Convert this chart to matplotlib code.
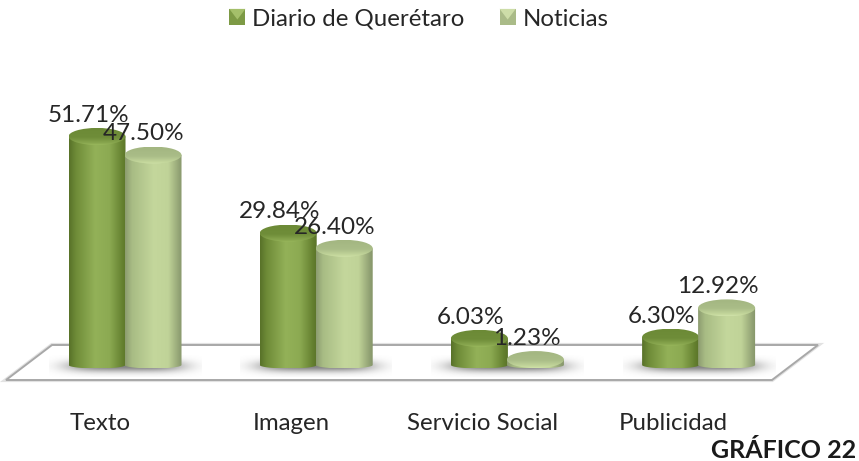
import numpy as np
import matplotlib
matplotlib.use('Agg')
import matplotlib.pyplot as plt
from matplotlib.colors import LinearSegmentedColormap
from matplotlib.legend_handler import HandlerBase
from matplotlib.patches import Patch, Polygon, PathPatch, Ellipse
from matplotlib.path import Path

plt.rcParams['font.family'] = ['Lato', 'DejaVu Sans']

categories = ['Texto', 'Imagen', 'Servicio Social', 'Publicidad']
series_names = ['Diario de Querétaro', 'Noticias']
diario = [51.71, 29.84, 6.03, 6.30]
noticias = [47.50, 26.40, 1.23, 12.92]

W, H = 859, 461
PX_X0, PX_PER_CAT = 125, 191.2
PX_Y0, PX_PER_PCT = 365, 4.42


def px(x, y):
    return (x - PX_X0) / PX_PER_CAT, (PX_Y0 - y) / PX_PER_PCT


RX = 28.5 / PX_PER_CAT
RY_TOP = 8.5 / PX_PER_PCT
RY_BOT = 3.5 / PX_PER_PCT
OFFSET = 28 / PX_PER_CAT

dark_side = LinearSegmentedColormap.from_list('ds', [(0, '#587229'), (0.12, '#6f8c38'), (0.45, '#93b158'),
                                                     (0.7, '#8caa52'), (0.93, '#64802f'), (1, '#5a7429')])
light_side = LinearSegmentedColormap.from_list('ls', [(0, '#8c9c70'), (0.12, '#a8bc84'), (0.5, '#c4d79c'),
                                                      (0.75, '#c0d398'), (0.95, '#8f9f72'), (1, '#869669')])
dark_top = LinearSegmentedColormap.from_list('dt', [(0, '#6c8a36'), (0.55, '#6f8d39'), (0.9, '#8aa850'), (1, '#9aba5e')])
light_top = LinearSegmentedColormap.from_list('lt', [(0, '#a3b681'), (0.55, '#aabd88'), (0.9, '#c4d79c'), (1, '#d0e2aa')])

fig = plt.figure(figsize=(W / 100, H / 100), dpi=100)
ax = fig.add_axes([0, 0, 1, 1])
x0, y0 = px(0, H)
x1, y1 = px(W, 0)
ax.set_xlim(x0, x1)
ax.set_ylim(y0, y1)
ax.axis('off')

# floor, with a soft grey edge
floor_px = [(6, 380), (52, 345), (818, 345), (772, 380)]
floor = [px(a, b) for a, b in floor_px]
ax.add_patch(Polygon(floor, closed=True, fc='none', ec='#e2e2e2', lw=3.0, zorder=1))
ax.add_patch(Polygon(floor, closed=True, fc='white', ec='#a8a8a8', lw=1.4, zorder=1.1))


def shadow(i):
    xs = np.linspace(-1, 1, 160)
    ys = np.linspace(-1, 1, 60)
    gx, gy = np.meshgrid(xs, ys)
    alpha = np.exp(-(np.abs(gx) / 0.78) ** 4 - (gy / 0.55) ** 2) * 0.85
    img = np.zeros(gx.shape + (4,))
    img[..., :3] = 0.42
    img[..., 3] = alpha
    xa, ya = px(PX_X0 + 76, PX_Y0 + 12)
    xb, yb = px(PX_X0 - 76, PX_Y0 - 10)
    ax.imshow(img, extent=[i + xb, i + xa, ya, yb], origin='lower', aspect='auto',
              interpolation='bilinear', zorder=2)


def cylinder(xc, value, side, top, z):
    t = np.linspace(np.pi, 2 * np.pi, 40)
    verts = [(xc - RX, value)]
    verts += [(xc + RX * np.cos(a), RY_BOT * np.sin(a)) for a in t]
    verts += [(xc + RX, value), (xc - RX, value)]
    clip = PathPatch(Path(verts), fc='none', ec='none', transform=ax.transData)
    ax.add_patch(clip)
    grad = np.linspace(0, 1, 128).reshape(1, -1)
    im = ax.imshow(grad, cmap=side, extent=[xc - RX, xc + RX, -RY_BOT, value], aspect='auto', zorder=z)
    im.set_clip_path(clip)
    cap = Ellipse((xc, value), 2 * RX, 2 * RY_TOP, fc='none', ec='none', transform=ax.transData)
    ax.add_patch(cap)
    grad = np.linspace(0, 1, 64).reshape(-1, 1)
    im = ax.imshow(grad, cmap=top, extent=[xc - RX, xc + RX, value + RY_TOP, value - RY_TOP],
                   origin='lower', aspect='auto', zorder=z + 0.1)
    im.set_clip_path(cap)


for i in range(len(categories)):
    shadow(i)
    cylinder(i - OFFSET, diario[i], dark_side, dark_top, 3)
    cylinder(i + OFFSET, noticias[i], light_side, light_top, 4)

for values, sign in [(diario, -1), (noticias, 1)]:
    for i, v in enumerate(values):
        ax.annotate('{:.2f}%'.format(v), (i + sign * OFFSET, v), xytext=(-6.5, 15.2), textcoords='offset points',
                    ha='center', va='center', fontsize=17.5, color='#262626', zorder=6)

# category labels sit left of the group centre in the reference
for i, c in enumerate(categories):
    ax.text(i - 25 / PX_PER_CAT, px(0, 423)[1], c, ha='center', va='center',
            fontsize=17.3, color='#262626', zorder=6)

ax.text(*px(783.5, 450), 'GRÁFICO 22', ha='center', va='center', fontsize=18, fontweight='bold',
        color='#1a1a1a', zorder=6)


class BevelHandler(HandlerBase):
    def create_artists(self, legend, orig, xd, yd, width, height, fontsize, trans):
        c1, c2 = orig.get_facecolor(), orig.get_edgecolor()
        x, y = -xd, -yd
        box = Polygon([(x, y), (x + width, y), (x + width, y + height), (x, y + height)], fc=c1, ec='none', transform=trans)
        top = Polygon([(x, y + height), (x + width, y + height), (x + width / 2, y + height * 0.35)], fc=c2, ec='none', transform=trans)
        return [box, top]


handles = [Patch(fc='#7d9a45', ec='#a4bf6a'), Patch(fc='#aabb88', ec='#cddda8')]
ax.legend(handles, series_names, loc='center', bbox_to_anchor=(419 / W, 1 - 19 / H), ncol=2, frameon=False,
          fontsize=17.3, handlelength=0.67, handleheight=0.67, handletextpad=0.29, columnspacing=1.45,
          labelcolor='#262626', handler_map={Patch: BevelHandler()})

fig.savefig('out.png', dpi=100)
